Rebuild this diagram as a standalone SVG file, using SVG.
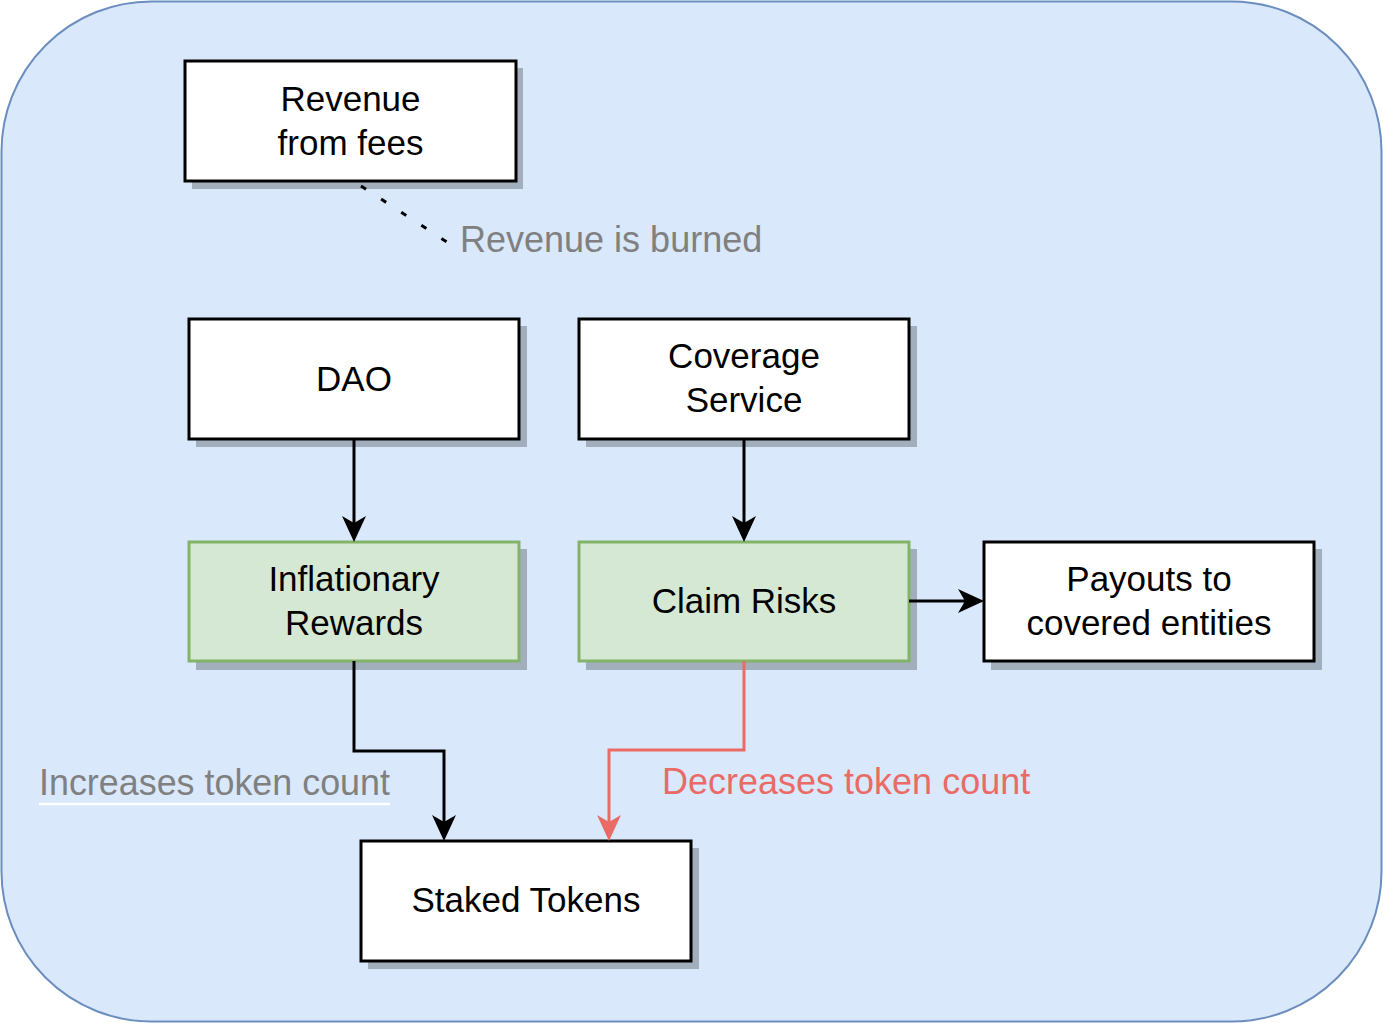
<svg xmlns="http://www.w3.org/2000/svg" width="1383" height="1023" viewBox="0 0 1383 1023">
<style>
  text { font-family: "Liberation Sans", Arial, Helvetica, sans-serif; }
  .node { font-size: 35px; fill: #000; text-anchor: middle; }
  .lbl { font-size: 36px; }
  .box { fill: #ffffff; stroke: #000; stroke-width: 3; }
  .green { fill: #d5e8d4; stroke: #82b366; stroke-width: 3; }
  .shadow { fill: #000; fill-opacity: 0.25; }
  .edge { fill: none; stroke: #000; stroke-width: 3; }
  .red { fill: none; stroke: #ea6b66; stroke-width: 3; }
</style>
<defs>
  <marker id="arrow" markerUnits="userSpaceOnUse" viewBox="0 0 26 24" markerWidth="26" markerHeight="24" refX="7" refY="12" orient="auto">
    <path d="M0,0 L26,12 L0,24 L7,12 Z" fill="#000"/>
  </marker>
  <marker id="arrowRed" markerUnits="userSpaceOnUse" viewBox="0 0 26 24" markerWidth="26" markerHeight="24" refX="7" refY="12" orient="auto">
    <path d="M0,0 L26,12 L0,24 L7,12 Z" fill="#ea6b66"/>
  </marker>
</defs>

<rect id="container" x="1.5" y="1.5" width="1380" height="1020" rx="150" ry="150" fill="#dae8fc" stroke="#6c8ebf" stroke-width="2"/>

<g id="revenue">
  <rect class="shadow" x="192" y="68" width="331" height="121"/>
  <rect class="box" x="185" y="61" width="331" height="120"/>
  <text class="node" x="350.5" y="111">Revenue</text>
  <text class="node" x="350.5" y="155">from fees</text>
</g>

<g id="dao">
  <rect class="shadow" x="196" y="326" width="331" height="121"/>
  <rect class="box" x="189" y="319" width="330" height="120"/>
  <text class="node" x="354" y="391">DAO</text>
</g>

<g id="coverage">
  <rect class="shadow" x="586" y="326" width="331" height="121"/>
  <rect class="box" x="579" y="319" width="330" height="120"/>
  <text class="node" x="744" y="368">Coverage</text>
  <text class="node" x="744" y="412">Service</text>
</g>

<g id="inflationary">
  <rect class="shadow" x="196" y="549" width="331" height="121"/>
  <rect class="green" x="189" y="542" width="330" height="119"/>
  <text class="node" x="354" y="591">Inflationary</text>
  <text class="node" x="354" y="635">Rewards</text>
</g>

<g id="claim">
  <rect class="shadow" x="586" y="549" width="331" height="121"/>
  <rect class="green" x="579" y="542" width="330" height="119"/>
  <text class="node" x="744" y="613">Claim Risks</text>
</g>

<g id="payouts">
  <rect class="shadow" x="991" y="549" width="331" height="121"/>
  <rect class="box" x="984" y="542" width="330" height="119"/>
  <text class="node" x="1149" y="591">Payouts to</text>
  <text class="node" x="1149" y="635">covered entities</text>
</g>

<g id="staked">
  <rect class="shadow" x="368" y="848" width="331" height="121"/>
  <rect class="box" x="361" y="841" width="330" height="120"/>
  <text class="node" x="526" y="912">Staked Tokens</text>
</g>

<g id="connectors">
  <path class="edge" d="M361,186 L447,242" stroke-width="6" stroke-dasharray="6 18"/>
  <path class="edge" d="M354,439 V523" marker-end="url(#arrow)"/>
  <path class="edge" d="M744,439 V523" marker-end="url(#arrow)"/>
  <path class="edge" d="M909,601 H965" marker-end="url(#arrow)"/>
  <path class="edge" d="M354,661 V751 H444 V822" marker-end="url(#arrow)"/>
  <path class="red" d="M744,661 V750 H609 V822" marker-end="url(#arrowRed)"/>
</g>

<g id="labels">
  <text class="lbl" x="460" y="252" fill="#808080">Revenue is burned</text>
  <line x1="39" y1="804" x2="390" y2="804" stroke="#ffffff" stroke-width="2.5"/>
  <text class="lbl" x="39" y="795" fill="#808080" textLength="351" lengthAdjust="spacingAndGlyphs">Increases token count</text>
  <text class="lbl" x="662" y="794" fill="#ea6b66">Decreases token count</text>
</g>
</svg>
